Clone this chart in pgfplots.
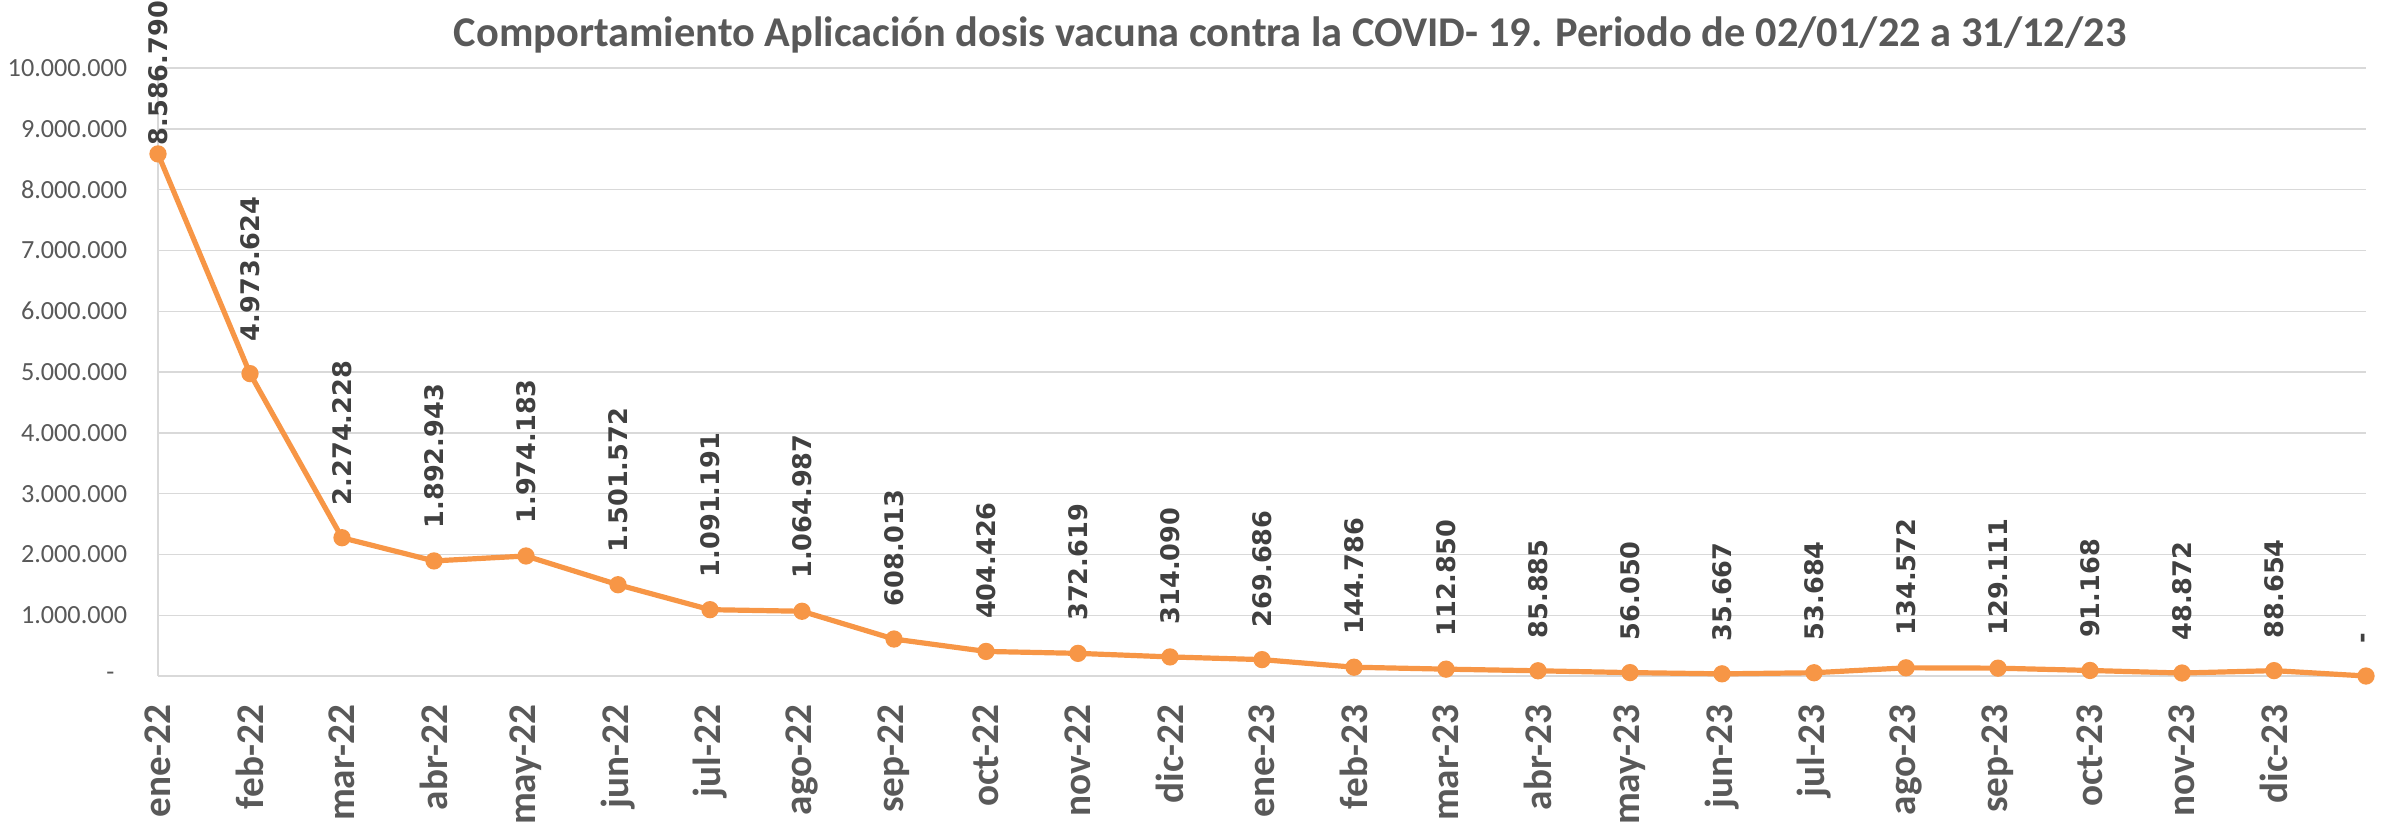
\documentclass[border=0pt]{standalone}
\usepackage{pgfplots}
\pgfplotsset{compat=1.18}
\usepackage{pgfplotstable}
\usepackage{fontspec}
\setmainfont{Carlito}
\newfontfamily\dejavu{DejaVu Sans}
\definecolor{lineor}{HTML}{F79646}
\definecolor{txtgray}{HTML}{595959}
\definecolor{lblgray}{HTML}{404040}
\definecolor{gridgray}{HTML}{D9D9D9}

\pgfplotstableread{
x y lbl off
0 8586790 8.586.790 1.5
1 4973624 4.973.624 7.5
2 2274228 2.274.228 7.5
3 1892943 1.892.943 7.5
4 1974183 1.974.183 7.5
5 1501572 1.501.572 7.5
6 1091191 1.091.191 7.5
7 1064987 1.064.987 7.5
8 608013 608.013 7.5
9 404426 404.426 7.5
10 372619 372.619 7.5
11 314090 314.090 7.5
12 269686 269.686 7.5
13 144786 144.786 7.5
14 112850 112.850 7.5
15 85885 85.885 7.5
16 56050 56.050 7.5
17 35667 35.667 7.5
18 53684 53.684 7.5
19 134572 134.572 7.5
20 129111 129.111 7.5
21 91168 91.168 7.5
22 48872 48.872 7.5
23 88654 88.654 7.5
24 0 - 7.5
}\datatable

\begin{document}
\begin{tikzpicture}
\begin{axis}[
  at={(0,0)}, anchor=south west,
  width=552pt, height=152pt, scale only axis,
  clip=false,
  xmin=0, xmax=24, ymin=0, ymax=10000000,
  xtick={0,...,23},
  xticklabels={ene-22,feb-22,mar-22,abr-22,may-22,jun-22,jul-22,ago-22,sep-22,oct-22,nov-22,dic-22,ene-23,feb-23,mar-23,abr-23,may-23,jun-23,jul-23,ago-23,sep-23,oct-23,nov-23,dic-23},
  ytick={0,1000000,2000000,3000000,4000000,5000000,6000000,7000000,8000000,9000000,10000000},
  yticklabels={-\hspace*{3.2pt},1.000.000,2.000.000,3.000.000,4.000.000,5.000.000,6.000.000,7.000.000,8.000.000,9.000.000,10.000.000},
  scaled y ticks=false,
  major tick length=0pt,
  ymajorgrids,
  grid style={gridgray, line width=0.35pt},
  axis x line*=bottom, axis y line*=left,
  axis line style={gridgray, line width=0.45pt},
  xticklabel shift=7pt,
  yticklabel shift=7.5pt,
  xticklabel style={font=\bfseries\fontsize{9.8}{10}\selectfont, text=txtgray, rotate=90, anchor=east, inner sep=0pt},
  yticklabel style={font=\fontsize{6.55}{7}\selectfont, text=txtgray, anchor=east, inner sep=0pt},
]
\addplot[lineor, line width=1.3pt, mark=*, mark size=1.5pt,
  mark options={fill=lineor, draw=lineor},
  point meta=explicit symbolic,
  nodes near coords={\pgfplotspointmeta},
  visualization depends on={\thisrow{off} \as \off},
  every node near coord/.append style={font=\dejavu\bfseries\fontsize{6.4}{7}\selectfont, text=lblgray, yshift=\off pt, rotate=90, anchor=west, inner sep=0pt},
] table[x=x, y=y, meta=lbl] {\datatable};
\end{axis}
\node[font=\bfseries\fontsize{10.6}{12}\selectfont, text=txtgray, anchor=base] at (283pt,157.25pt) {Comportamiento Aplicación dosis vacuna contra la COVID- 19. Periodo de 02/01/22 a 31/12/23};
\pgfresetboundingbox
\path[use as bounding box] (-39.5pt,-37.5pt) rectangle (556.5pt,169pt);
\end{tikzpicture}
\end{document}
